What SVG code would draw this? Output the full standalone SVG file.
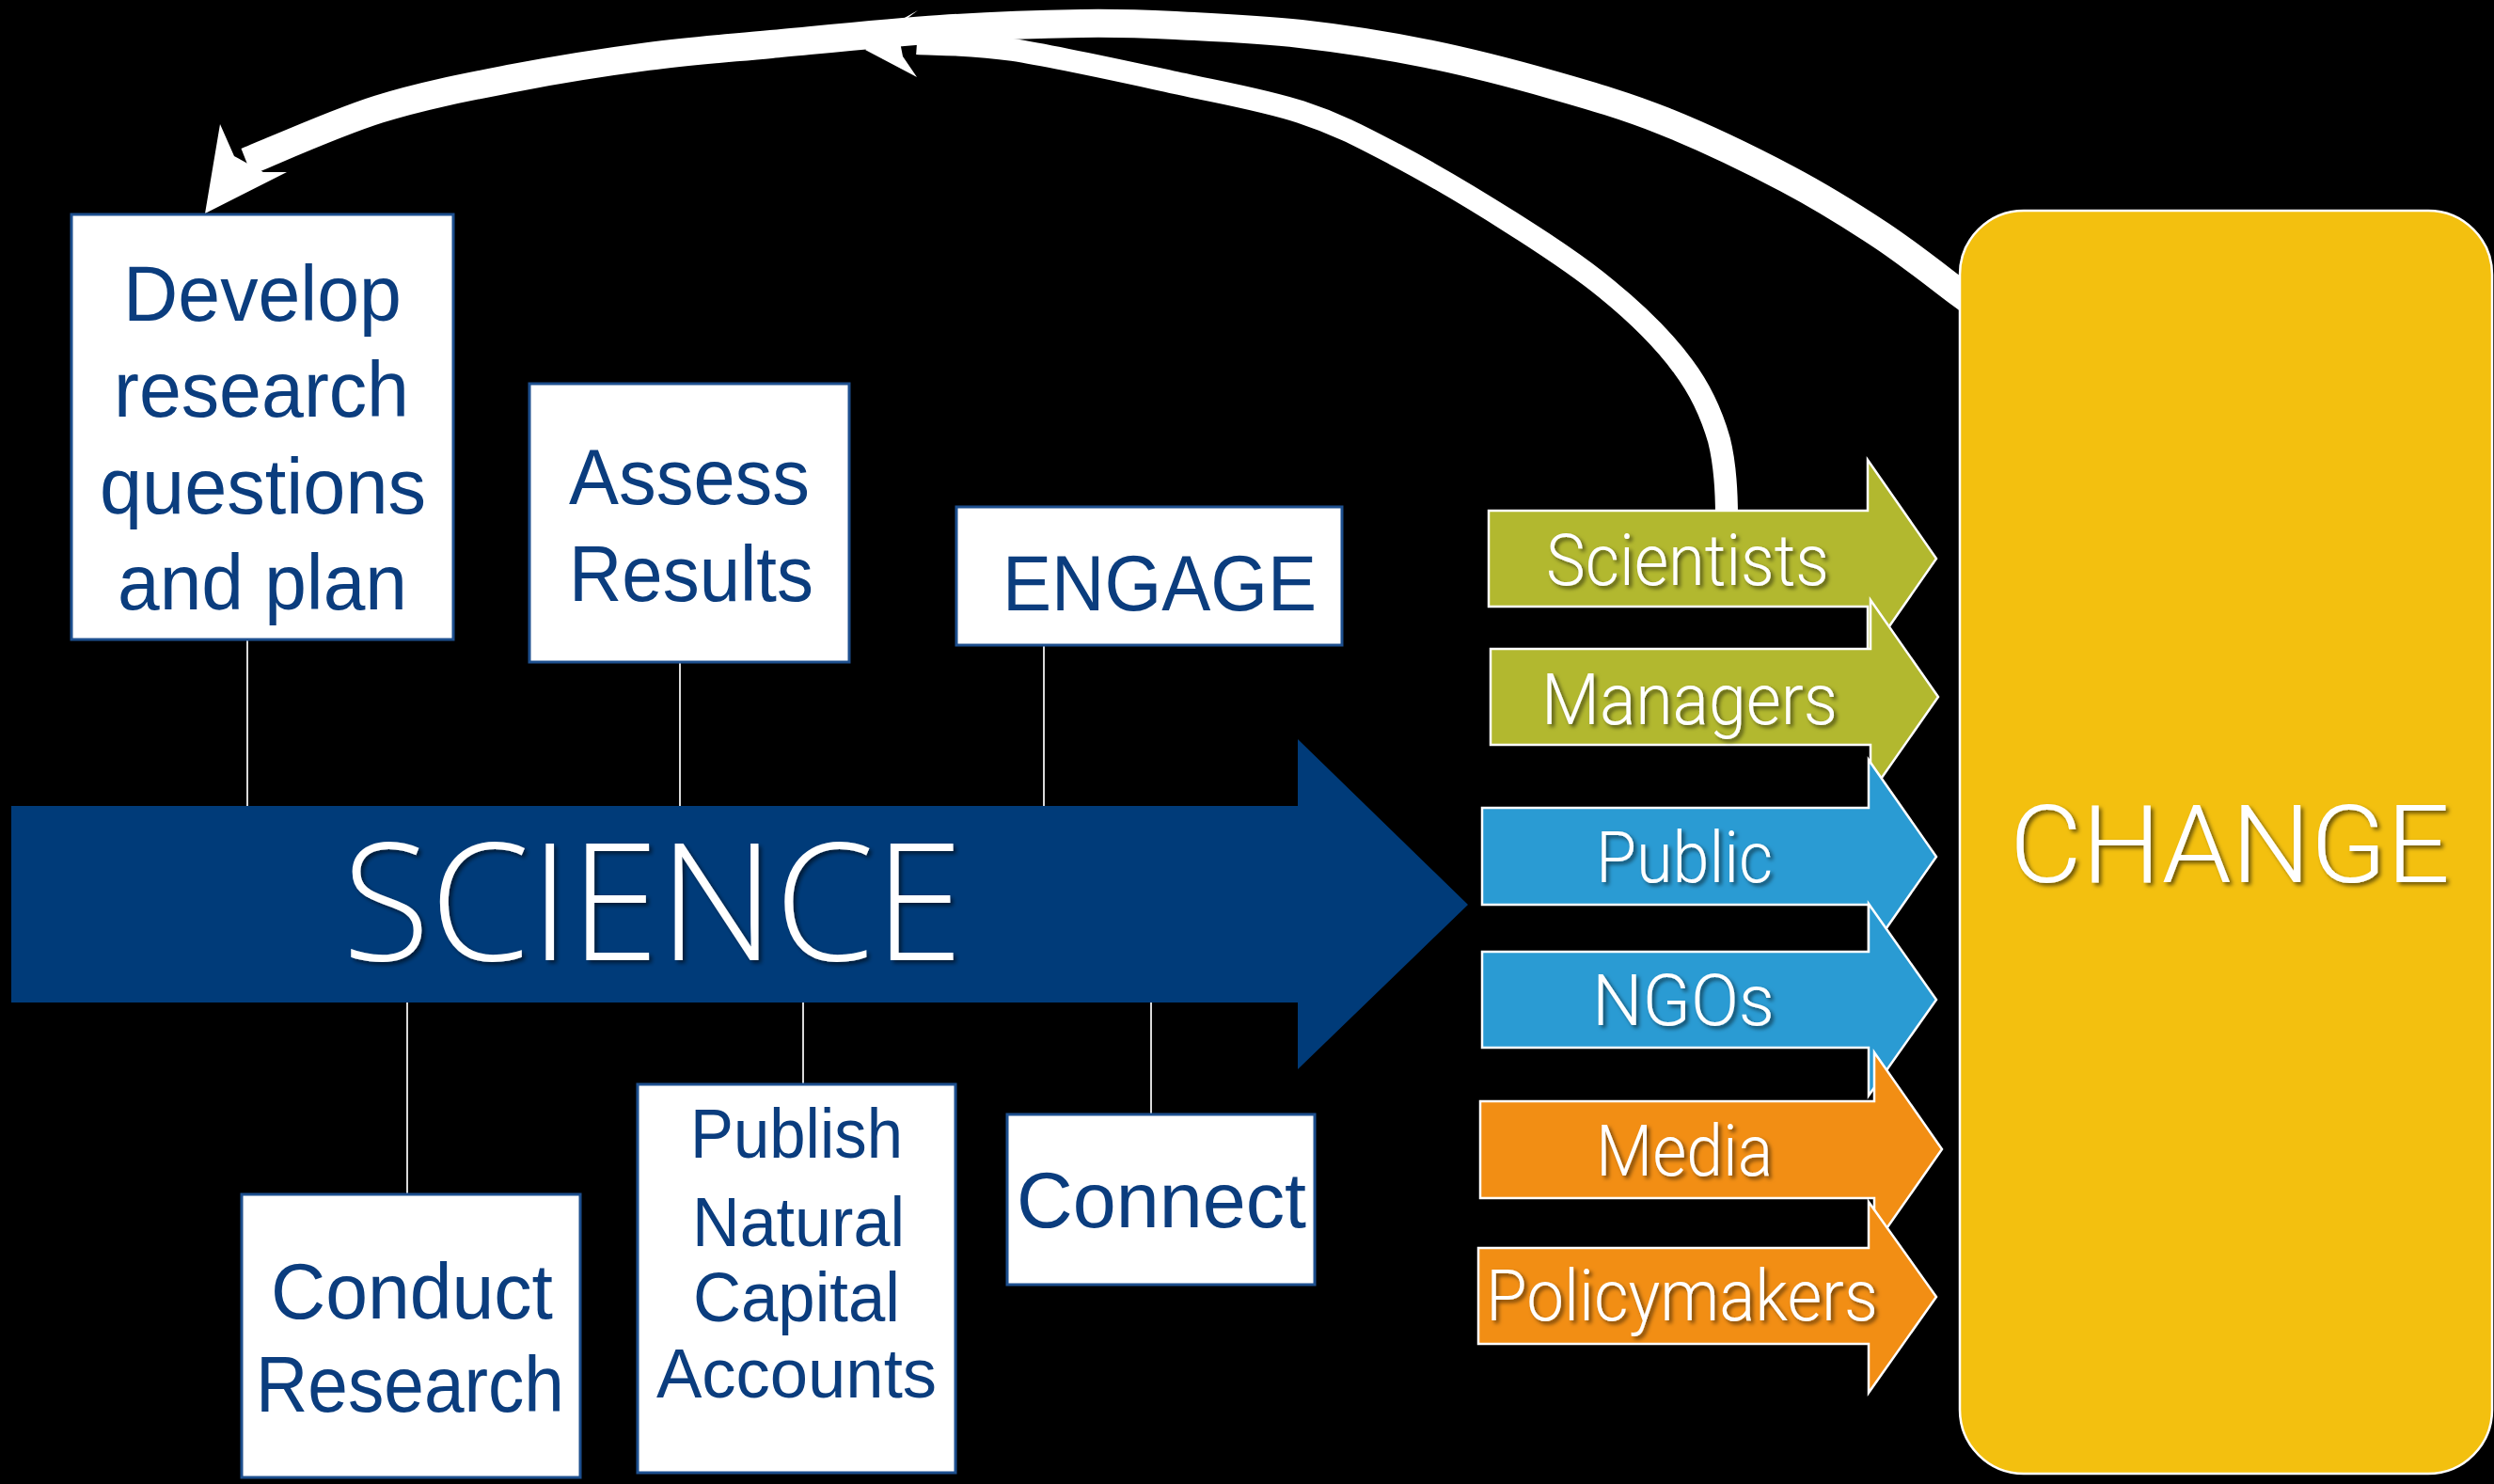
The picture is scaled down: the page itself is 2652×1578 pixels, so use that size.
<svg xmlns="http://www.w3.org/2000/svg" width="2652" height="1578" viewBox="0 0 2652 1578">
<defs>
<filter id="sh" x="-10%" y="-20%" width="130%" height="150%">
<feDropShadow dx="3" dy="3" stdDeviation="2" flood-color="#000" flood-opacity="0.55"/>
</filter>
</defs>
<style>
.box{fill:#fff;stroke:#1d4f8e;stroke-width:3}
.bt{font-family:"Liberation Sans",Arial,sans-serif;fill:#0b3d7e;font-size:84px}
.bt2{font-family:"Liberation Sans",Arial,sans-serif;fill:#0b3d7e;font-size:74px}
.wt{font-family:Roboto,"Liberation Sans",Arial,sans-serif;font-weight:300;fill:#fff;font-size:76px;filter:url(#sh)}
.arr{stroke:#fff;stroke-width:2.5;stroke-linejoin:miter}
.g{fill:#b2b82f}
.b{fill:#2a9bd3}
.o{fill:#f28e14}
.tick{stroke:#d9d9d9;stroke-width:2;fill:none}
.band{fill:none;stroke:#fff;stroke-linecap:butt}
</style>
<rect x="0" y="0" width="2652" height="1578" fill="#000"/>

<g id="connectors">
<path class="band" stroke-width="30" d="M2110 331 L2084 312 C2070 301.7 2030.7 270.3 2000 250 C1969.3 229.7 1938.3 210.2 1900 190 C1861.7 169.8 1811.7 145.7 1770 129 C1728.3 112.3 1692.2 102 1650 90 C1607.8 78 1561.5 66 1517 57 C1472.5 48 1427.5 41 1383 36 C1338.5 31 1288.8 28.8 1250 27 C1211.2 25.2 1191.7 24.3 1150 25 C1108.3 25.7 1055 27.3 1000 31 C945 34.7 871.8 42.2 820 47 C768.2 51.8 734.7 54 689 60 C643.3 66 593.7 73.7 546 83 C498.3 92.3 450.3 101.2 403 116 C355.7 130.8 285.5 162.7 262 172"/>
<polygon fill="#fff" points="218,227 234,132 249,166 280,183 305,183"/>
<path class="band" stroke-width="24" d="M1836 560 L1836 550 C1836 515 1834 492 1828 468 C1820 440 1808 414 1790 390 C1768 360 1740 333 1708 307 C1678.2 282.2 1643.5 259.8 1606 236 C1568.5 212.2 1520.2 183.5 1483 164 C1445.8 144.5 1421.8 131.7 1383 119 C1344.2 106.3 1301 99 1250 88 C1199 77 1122.8 60 1077 53 C1031.2 46 992 47.2 975 46"/>
<polygon fill="#fff" points="920,53 976,11 953,24 960,60 975,82"/>
<line class="tick" x1="263" y1="680" x2="263" y2="858"/>
<line class="tick" x1="723" y1="705" x2="723" y2="858"/>
<line class="tick" x1="1110" y1="686" x2="1110" y2="858"/>
<line class="tick" x1="433" y1="1064" x2="433" y2="1270"/>
<line class="tick" x1="854" y1="1064" x2="854" y2="1153"/>
<line class="tick" x1="1224" y1="1064" x2="1224" y2="1185"/>
</g>

<g id="science">
<polygon fill="#003b79" points="12,857 1380,857 1380,786 1561,962 1380,1137 1380,1066 12,1066"/>
<text x="364" y="1021" font-family="'Open Sans','Noto Sans',sans-serif" font-weight="300" font-size="174" fill="#fff" textLength="660" lengthAdjust="spacingAndGlyphs" filter="url(#sh)">SCIENCE</text>
</g>

<g id="develop">
<rect class="box" x="76" y="228" width="406" height="452"/>
<text class="bt" x="131" y="341" textLength="296" lengthAdjust="spacingAndGlyphs">Develop</text>
<text class="bt" x="121" y="443" textLength="314" lengthAdjust="spacingAndGlyphs">research</text>
<text class="bt" x="106" y="546" textLength="347" lengthAdjust="spacingAndGlyphs">questions</text>
<text class="bt" x="125" y="648" textLength="308" lengthAdjust="spacingAndGlyphs">and plan</text>
</g>

<g id="assess">
<rect class="box" x="563" y="408" width="340" height="296"/>
<text class="bt" x="605" y="536" textLength="256" lengthAdjust="spacingAndGlyphs">Assess</text>
<text class="bt" x="605" y="639" textLength="260" lengthAdjust="spacingAndGlyphs">Results</text>
</g>

<g id="engage">
<rect class="box" x="1017" y="539" width="410" height="147"/>
<text class="bt" x="1066" y="649" textLength="334" lengthAdjust="spacingAndGlyphs">ENGAGE</text>
</g>

<g id="conduct">
<rect class="box" x="257" y="1270" width="360" height="301"/>
<text class="bt" x="288" y="1402" textLength="300" lengthAdjust="spacingAndGlyphs">Conduct</text>
<text class="bt" x="272" y="1501" textLength="328" lengthAdjust="spacingAndGlyphs">Research</text>
</g>

<g id="publish">
<rect class="box" x="678" y="1153" width="338" height="413"/>
<text class="bt2" x="734" y="1231" textLength="226" lengthAdjust="spacingAndGlyphs">Publish</text>
<text class="bt2" x="736" y="1325" textLength="226" lengthAdjust="spacingAndGlyphs">Natural</text>
<text class="bt2" x="737" y="1405" textLength="220" lengthAdjust="spacingAndGlyphs">Capital</text>
<text class="bt2" x="698" y="1486" textLength="298" lengthAdjust="spacingAndGlyphs">Accounts</text>
</g>

<g id="connect">
<rect class="box" x="1071" y="1185" width="327" height="181"/>
<text class="bt" x="1081" y="1305" textLength="308" lengthAdjust="spacingAndGlyphs">Connect</text>
</g>

<g id="scientists">
<polygon class="arr g" points="1583,543 1986,543 1986,489 2059,594 1986,699 1986,645 1583,645"/>
<text class="wt" x="1644" y="622" textLength="301" lengthAdjust="spacingAndGlyphs">Scientists</text>
</g>
<g id="managers">
<polygon class="arr g" points="1585,690 1989,690 1989,638 2061,741 1989,844 1989,792 1585,792"/>
<text class="wt" x="1639" y="770" textLength="315" lengthAdjust="spacingAndGlyphs">Managers</text>
</g>
<g id="public">
<polygon class="arr b" points="1576,859 1987,859 1987,808 2059,911 1987,1014 1987,962 1576,962"/>
<text class="wt" x="1697" y="938" textLength="188" lengthAdjust="spacingAndGlyphs">Public</text>
</g>
<g id="ngos">
<polygon class="arr b" points="1576,1012 1987,1012 1987,961 2059,1063 1987,1165 1987,1114 1576,1114"/>
<text class="wt" x="1693" y="1090" textLength="194" lengthAdjust="spacingAndGlyphs">NGOs</text>
</g>
<g id="media">
<polygon class="arr o" points="1574,1171 1993,1171 1993,1119 2065,1222 1993,1325 1993,1274 1574,1274"/>
<text class="wt" x="1697" y="1250" textLength="188" lengthAdjust="spacingAndGlyphs">Media</text>
</g>
<g id="policymakers">
<polygon class="arr o" points="1572,1327 1987,1327 1987,1278 2059,1379 1987,1481 1987,1429 1572,1429"/>
<text class="wt" x="1580" y="1404" textLength="417" lengthAdjust="spacingAndGlyphs">Policymakers</text>
</g>

<g id="change">
<rect x="2084" y="224" width="566" height="1343" rx="68" ry="68" fill="#f3c00f" stroke="#fff" stroke-width="2.5"/>
<text x="2137" y="938" font-family="Roboto,'Liberation Sans',Arial,sans-serif" font-weight="300" font-size="115" fill="#fff" textLength="468" lengthAdjust="spacingAndGlyphs" filter="url(#sh)">CHANGE</text>
</g>
</svg>
